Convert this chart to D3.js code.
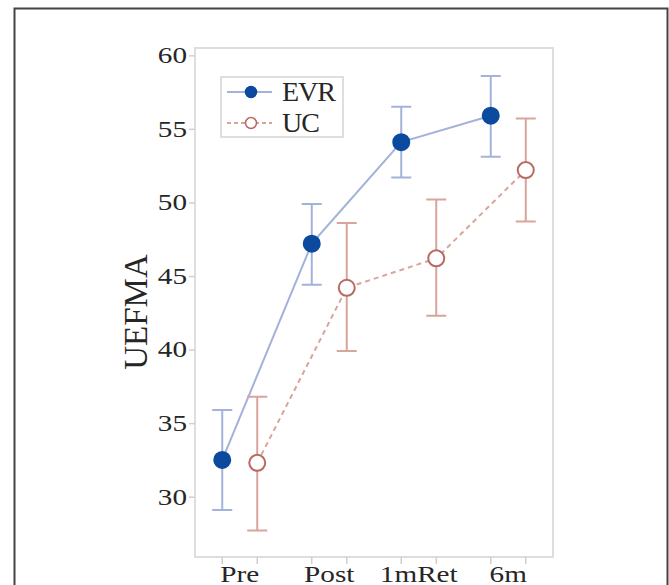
<!DOCTYPE html>
<html>
<head>
<meta charset="utf-8">
<script src="https://cdn.jsdelivr.net/npm/d3@7"></script>
<style>
  body { margin: 0; background: #fff; }
  text { font-family: "Liberation Serif", "DejaVu Serif", serif; fill: #262626; }
</style>
</head>
<body>
<div id="chart"></div>
<script>
// data
var groups = ['Pre', 'Post', '1m Ret', '6m'];
var groupLabels = ['Pre', 'Post', '1mRet', '6m'];
var evrMean = [32.5, 47.2, 54.1, 55.9];
var evrLow = [29.1, 44.4, 51.7, 53.1];
var evrHigh = [35.9, 49.9, 56.5, 58.6];
var ucMean = [32.3, 44.2, 46.2, 52.2];
var ucLow = [27.7, 39.9, 42.3, 48.7];
var ucHigh = [36.8, 48.6, 50.2, 55.7];
var yTicks = [30, 35, 40, 45, 50, 55, 60];

var width = 669, height = 585;
var plot = {left: 195, right: 553, top: 48, bottom: 557};
var stretch = 1.27; // tick labels in the figure are drawn wide

var svg = d3.select('#chart').append('svg')
  .attr('width', width)
  .attr('height', height);

// outer frame of the figure
svg.append('path')
  .attr('d', 'M14.5,' + height + 'V8.5H667.5V' + height)
  .style('fill', 'none')
  .style('stroke', '#444')
  .style('stroke-width', 2);

var x = d3.scaleBand().domain(groups).range([plot.left, plot.right]).padding(0);
var y = d3.scaleLinear().domain([25.9, 60.5]).range([plot.bottom, plot.top]);
var offset = 17.5;

function cx (i, side) {
  return x(groups[i]) + x.bandwidth() / 2 + side * offset;
}

// plot frame
svg.append('rect')
  .attr('x', plot.left)
  .attr('y', plot.top)
  .attr('width', plot.right - plot.left)
  .attr('height', plot.bottom - plot.top)
  .style('fill', 'none')
  .style('stroke', '#dedede')
  .style('stroke-width', 2);

// y axis
var yAxis = svg.append('g')
  .attr('transform', 'translate(' + plot.left + ',0)')
  .call(d3.axisLeft(y).tickValues(yTicks).tickSize(6).tickPadding(3));
yAxis.select('.domain').remove();
yAxis.selectAll('line').style('stroke', '#cfcfcf').style('stroke-width', 1.5);
yAxis.selectAll('text')
  .attr('x', -8 / stretch)
  .attr('transform', 'scale(' + stretch + ',1)')
  .style('font-size', '23px')
  .style('font-family', '"Liberation Serif", serif')
  .style('fill', '#262626');

// x ticks: one per series within each group
var xTickPos = [];
groups.forEach(function (g, i) {
  xTickPos.push(cx(i, -1));
  xTickPos.push(cx(i, 1));
});
svg.selectAll('.xtick')
  .data(xTickPos)
  .enter()
  .append('line')
  .attr('class', 'xtick')
  .attr('x1', function (d) { return d; })
  .attr('x2', function (d) { return d; })
  .attr('y1', plot.bottom)
  .attr('y2', plot.bottom + 7)
  .style('stroke', '#cfcfcf')
  .style('stroke-width', 1.5);

svg.selectAll('.xlabel')
  .data(groups)
  .enter()
  .append('text')
  .attr('class', 'xlabel')
  .attr('transform', function (d) {
    return 'translate(' + (x(d) + x.bandwidth() / 2) + ',582) scale(' + stretch + ',1)';
  })
  .attr('text-anchor', 'middle')
  .style('font-size', '23px')
  .text(function (d, i) { return groupLabels[i]; });

// y title
svg.append('text')
  .attr('transform', 'translate(147,312) rotate(-90)')
  .attr('text-anchor', 'middle')
  .style('font-size', '33px')
  .text('UEFMA');

function drawSeries (mean, low, high, side, lineColor, dash, markFill, markStroke) {
  var pts = mean.map(function (m, i) { return [cx(i, side), y(m)]; });

  svg.append('path')
    .datum(pts)
    .attr('d', d3.line())
    .style('fill', 'none')
    .style('stroke', lineColor)
    .style('stroke-width', 2)
    .style('stroke-dasharray', dash);

  var bars = svg.append('g');
  mean.forEach(function (m, i) {
    var px = cx(i, side);
    var path = d3.path();
    path.moveTo(px, y(low[i]));
    path.lineTo(px, y(high[i]));
    path.moveTo(px - 10, y(low[i]));
    path.lineTo(px + 10, y(low[i]));
    path.moveTo(px - 10, y(high[i]));
    path.lineTo(px + 10, y(high[i]));
    bars.append('path')
      .attr('d', path.toString())
      .style('fill', 'none')
      .style('stroke', lineColor)
      .style('stroke-width', 2);
  });

  svg.selectAll(null)
    .data(pts)
    .enter()
    .append('circle')
    .attr('cx', function (d) { return d[0]; })
    .attr('cy', function (d) { return d[1]; })
    .attr('r', 8)
    .style('fill', markFill)
    .style('stroke', markStroke)
    .style('stroke-width', 2);
}

drawSeries(evrMean, evrLow, evrHigh, -1, '#a3b2da', null, '#0b4a9f', '#0b4a9f');
drawSeries(ucMean, ucLow, ucHigh, 1, '#d9a49b', '5,4', '#fff', '#b86a60');

// legend
var legend = svg.append('g');
legend.append('rect')
  .attr('x', 221)
  .attr('y', 77)
  .attr('width', 122)
  .attr('height', 60)
  .style('fill', '#fff')
  .style('stroke', '#d4d4d4')
  .style('stroke-width', 1.5);

var legendItems = [
  {name: 'EVR', line: '#a3b2da', dash: null, fill: '#0b4a9f', stroke: '#0b4a9f', r: 5.5},
  {name: 'UC', line: '#d9a49b', dash: '4,3', fill: '#fff', stroke: '#b86a60', r: 5.5}
];
legendItems.forEach(function (d, i) {
  var ly = 92 + i * 31;
  legend.append('line')
    .attr('x1', 227).attr('x2', 272)
    .attr('y1', ly).attr('y2', ly)
    .style('stroke', d.line)
    .style('stroke-width', 2)
    .style('stroke-dasharray', d.dash);
  legend.append('circle')
    .attr('cx', 251).attr('cy', ly).attr('r', d.r)
    .style('fill', d.fill)
    .style('stroke', d.stroke)
    .style('stroke-width', 1.5);
  legend.append('text')
    .attr('x', 282).attr('y', ly + 9)
    .style('font-size', '28px')
    .style('letter-spacing', '-1px')
    .text(d.name);
});
</script>
</body>
</html>
